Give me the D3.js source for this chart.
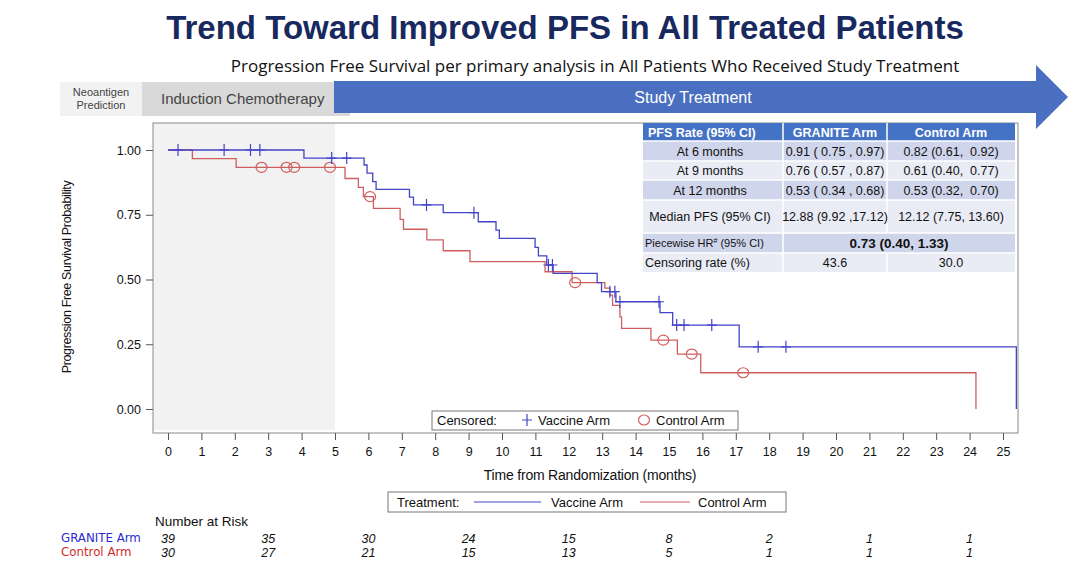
<!DOCTYPE html>
<html><head><meta charset="utf-8">
<script src="https://cdn.jsdelivr.net/npm/d3@7/dist/d3.min.js"></script>
<style>
body{margin:0;background:#fff}
svg{display:block}
text{font-family:"Liberation Sans",Arial,sans-serif}
</style>
</head><body>
<svg id="c" width="1080" height="576"></svg>
<script>
// ---------------- DATA ----------------
const xTicks = d3.range(0, 26);
const yTicks = [0, 0.25, 0.5, 0.75, 1.0];

const vaccineTimes = [0, 4.07, 5.87, 5.96, 6.13, 6.23, 7.23, 7.35, 8.24, 9.29, 9.82, 9.92, 10.99, 11.09, 11.34, 11.53, 12.85, 12.98, 13.41, 14.73, 15.11, 17.10, 25.40];
const vaccineSurv  = [1.0, 0.969, 0.942, 0.911, 0.878, 0.848, 0.818, 0.788, 0.758, 0.723, 0.691, 0.659, 0.624, 0.591, 0.556, 0.524, 0.488, 0.453, 0.414, 0.372, 0.324, 0.240, 0.0];
const vaccineCensor = [0.30, 1.68, 2.47, 2.75, 4.90, 5.35, 7.74, 9.16, 11.39, 11.51, 13.23, 13.38, 13.53, 14.70, 15.23, 15.45, 16.28, 17.67, 18.50];

const controlTimes = [0, 0.73, 2.04, 5.30, 5.70, 5.85, 6.15, 6.95, 7.05, 7.75, 8.24, 9.04, 11.29, 12.10, 13.08, 13.23, 13.31, 13.53, 13.58, 14.46, 15.25, 15.95, 24.19];
const controlSurv  = [1.0, 0.967, 0.933, 0.890, 0.856, 0.820, 0.775, 0.732, 0.694, 0.653, 0.611, 0.569, 0.530, 0.488, 0.467, 0.440, 0.400, 0.356, 0.311, 0.266, 0.212, 0.140, 0.0];
const controlCensor = [2.80, 3.55, 3.78, 4.85, 6.05, 12.19, 14.83, 15.68, 17.22];

const riskTimes = [0, 3, 6, 9, 12, 15, 18, 21, 24];
const riskGranite = [39, 35, 30, 24, 15, 8, 2, 1, 1];
const riskControl = [30, 27, 21, 15, 13, 5, 1, 1, 1];

const tableHeader = ["PFS Rate (95% CI)", "GRANITE Arm", "Control Arm"];
const tableRowLabels = ["At 6 months", "At 9 months", "At 12 months", "Median PFS (95% CI)"];
const tableGranite = ["0.91 ( 0.75 , 0.97)", "0.76 ( 0.57 , 0.87)", "0.53 ( 0.34 , 0.68)", "12.88 (9.92 ,17.12)"];
const tableControl = ["0.82 (0.61,  0.92)", "0.61 (0.40,  0.77)", "0.53 (0.32,  0.70)", "12.12 (7.75, 13.60)"];
const hrLabel = "Piecewise HR";
const hrValue = "0.73 (0.40, 1.33)";
const censorLabel = "Censoring rate (%)";
const censorRates = ["43.6", "30.0"];

// ---------------- LAYOUT ----------------
const svg = d3.select("#c");
const blue = "#4343c8", red = "#cf5f5f";
const x = d3.scaleLinear().domain([0, 25]).range([168, 1003]);
const y = d3.scaleLinear().domain([0, 1]).range([409, 150]);
const fx0 = 153, fx1 = 1018, fy0 = 123, fy1 = 433;

// Title
svg.append("text").attr("x", 565).attr("y", 39).attr("text-anchor", "middle")
  .attr("font-size", 33).attr("font-weight", "bold").attr("fill", "#17295e")
  .text("Trend Toward Improved PFS in All Treated Patients");
svg.append("text").attr("x", 595).attr("y", 72).attr("text-anchor", "middle")
  .style("font-family", "'Open Sans', sans-serif").attr("font-size", 17).attr("fill", "#111")
  .text("Progression Free Survival per primary analysis in All Patients Who Received Study Treatment");

// Banner
svg.append("rect").attr("x", 60).attr("y", 82).attr("width", 82).attr("height", 34).attr("fill", "#f2f2f2");
svg.append("rect").attr("x", 142).attr("y", 82).attr("width", 208).attr("height", 34).attr("fill", "#d9d9d9");
svg.append("text").attr("x", 101).attr("y", 96).attr("text-anchor", "middle").attr("font-size", 11).attr("fill", "#444").text("Neoantigen");
svg.append("text").attr("x", 101).attr("y", 109).attr("text-anchor", "middle").attr("font-size", 11).attr("fill", "#444").text("Prediction");
svg.append("text").attr("x", 161).attr("y", 104).attr("font-size", 15).attr("fill", "#444").text("Induction Chemotherapy");
svg.append("polygon").attr("points", "334,81 1036,81 1036,65 1068,97 1036,129 1036,113 334,113").attr("fill", "#4a6fc0");
svg.append("text").attr("x", 693).attr("y", 103).attr("text-anchor", "middle").attr("font-size", 16).attr("fill", "#fff").text("Study Treatment");

// Plot area
svg.append("rect").attr("x", fx0).attr("y", fy0).attr("width", x(5) - fx0).attr("height", fy1 - fy0 - 3).attr("fill", "#f2f2f2");
svg.append("rect").attr("x", fx0).attr("y", fy0).attr("width", fx1 - fx0).attr("height", fy1 - fy0)
  .attr("fill", "none").attr("stroke", "#8a8a8a").attr("stroke-width", 1);

// Axes
const gx = svg.append("g").attr("transform", `translate(0,${fy1})`)
  .call(d3.axisBottom(x).tickValues(xTicks).tickSize(7).tickPadding(7).tickFormat(d3.format("d")));
gx.select(".domain").remove();
gx.selectAll("line").attr("stroke", "#555");
gx.selectAll("text").attr("font-size", 12.5).attr("fill", "#111").style("font-family", "'Liberation Sans',Arial,sans-serif");

const gy = svg.append("g").attr("transform", `translate(${fx0},0)`)
  .call(d3.axisLeft(y).tickValues(yTicks).tickSize(7).tickPadding(5).tickFormat(d3.format(".2f")));
gy.select(".domain").remove();
gy.selectAll("line").attr("stroke", "#555");
gy.selectAll("text").attr("font-size", 12.5).attr("fill", "#111").style("font-family", "'Liberation Sans',Arial,sans-serif");

svg.append("text").attr("x", 590).attr("y", 480).attr("text-anchor", "middle").attr("font-size", 14)
  .attr("letter-spacing", -0.2).attr("fill", "#111").text("Time from Randomization (months)");
svg.append("text").attr("transform", "translate(71,277) rotate(-90)").attr("text-anchor", "middle")
  .attr("font-size", 12.5).attr("letter-spacing", -0.35).attr("fill", "#111").text("Progression Free Survival Probability");

// Curves
function stepData(times, surv) { return times.map((t, i) => [t, surv[i]]); }
function survAt(times, surv, t) {
  let v = surv[0];
  for (let i = 0; i < times.length; i++) { if (times[i] <= t) v = surv[i]; }
  return v;
}
const line = d3.line().x(d => x(d[0])).y(d => y(d[1])).curve(d3.curveStepAfter);

svg.append("path").datum(stepData(controlTimes, controlSurv)).attr("d", line)
  .attr("fill", "none").attr("stroke", red).attr("stroke-width", 1.3);
svg.append("path").datum(stepData(vaccineTimes, vaccineSurv)).attr("d", line)
  .attr("fill", "none").attr("stroke", blue).attr("stroke-width", 1.3);

// Censor marks
svg.append("g").selectAll("ellipse").data(controlCensor).join("ellipse")
  .attr("cx", d => x(d)).attr("cy", d => y(survAt(controlTimes, controlSurv, d)))
  .attr("rx", 5.5).attr("ry", 5).attr("fill", "none").attr("stroke", red).attr("stroke-width", 1.2);
svg.append("g").selectAll("path").data(vaccineCensor).join("path")
  .attr("d", d => { const cx = x(d), cy = y(survAt(vaccineTimes, vaccineSurv, d)); return `M${cx - 5},${cy}H${cx + 5}M${cx},${cy - 6}V${cy + 6}`; })
  .attr("stroke", blue).attr("stroke-width", 1.2).attr("fill", "none");

// Table
const tx = [643, 783, 887, 1015];
const ty = [123, 141, 161, 180, 200, 233, 253, 272];
const hdr = "#4472c4", rowA = "#cfd5ea", rowB = "#e9ebf5";
const tg = svg.append("g");
tg.append("rect").attr("x", tx[0]).attr("y", ty[0]).attr("width", tx[3] - tx[0]).attr("height", ty[1] - ty[0]).attr("fill", hdr);
for (let r = 0; r < 6; r++) {
  tg.append("rect").attr("x", tx[0]).attr("y", ty[r + 1]).attr("width", tx[3] - tx[0]).attr("height", ty[r + 2] - ty[r + 1])
    .attr("fill", r % 2 === 0 ? rowA : rowB);
}
for (let r = 1; r < 7; r++) tg.append("line").attr("x1", tx[0]).attr("x2", tx[3]).attr("y1", ty[r]).attr("y2", ty[r]).attr("stroke", "#fff").attr("stroke-width", 1.5);
[tx[1], tx[2]].forEach((cx, i) => {
  tg.append("line").attr("x1", cx).attr("x2", cx).attr("y1", ty[0]).attr("y2", i === 1 ? ty[5] : ty[7]).attr("stroke", "#fff").attr("stroke-width", 1.5);
});
tg.append("line").attr("x1", tx[2]).attr("x2", tx[2]).attr("y1", ty[6]).attr("y2", ty[7]).attr("stroke", "#fff").attr("stroke-width", 1.5);

const mid = (a, b) => (a + b) / 2;
tableHeader.forEach((h, i) => {
  tg.append("text").attr("x", i === 0 ? tx[0] + 5 : mid(tx[i], tx[i + 1])).attr("y", ty[1] - 4.5)
    .attr("text-anchor", i === 0 ? "start" : "middle")
    .attr("font-size", 12.5).attr("font-weight", "bold").attr("fill", "#fff").text(h);
});
tableRowLabels.forEach((lab, r) => {
  const yb = mid(ty[r + 1], ty[r + 2]) + 4.5;
  tg.append("text").attr("x", mid(tx[0], tx[1]) - 3).attr("y", yb).attr("text-anchor", "middle").attr("font-size", 12.5).attr("fill", "#111").text(lab);
  tg.append("text").attr("x", mid(tx[1], tx[2])).attr("y", yb).attr("text-anchor", "middle").attr("font-size", 12.5).attr("fill", "#111")
    .style("white-space", "pre").text(tableGranite[r]);
  tg.append("text").attr("x", mid(tx[2], tx[3])).attr("y", yb).attr("text-anchor", "middle").attr("font-size", 12.5).attr("fill", "#111")
    .style("white-space", "pre").text(tableControl[r]);
});
const hrT = tg.append("text").attr("x", tx[0] + 2).attr("y", mid(ty[5], ty[6]) + 4).attr("font-size", 11).attr("fill", "#111");
hrT.append("tspan").text(hrLabel);
hrT.append("tspan").attr("font-size", 7).attr("dy", -4).text("#");
hrT.append("tspan").attr("dy", 4).text(" (95% CI)");
tg.append("text").attr("x", mid(tx[1], tx[3])).attr("y", mid(ty[5], ty[6]) + 5).attr("text-anchor", "middle")
  .attr("font-size", 13.5).attr("font-weight", "bold").attr("fill", "#111").text(hrValue);
tg.append("text").attr("x", tx[0] + 2).attr("y", mid(ty[6], ty[7]) + 4.5).attr("font-size", 12.5).attr("fill", "#111").text(censorLabel);
censorRates.forEach((c, i) => {
  tg.append("text").attr("x", mid(tx[i + 1], tx[i + 2])).attr("y", mid(ty[6], ty[7]) + 4.5).attr("text-anchor", "middle")
    .attr("font-size", 12.5).attr("fill", "#111").text(c);
});

// Censored legend
const lg = svg.append("g");
lg.append("rect").attr("x", 432).attr("y", 411).attr("width", 306).attr("height", 19).attr("fill", "#fff").attr("stroke", "#777");
lg.append("text").attr("x", 437).attr("y", 425).attr("font-size", 13).attr("fill", "#111").text("Censored:");
lg.append("path").attr("d", "M522,420H532M527,414V426").attr("stroke", blue).attr("stroke-width", 1.2);
lg.append("text").attr("x", 538).attr("y", 425).attr("font-size", 13).attr("fill", "#111").text("Vaccine Arm");
lg.append("ellipse").attr("cx", 644).attr("cy", 420).attr("rx", 5.5).attr("ry", 5).attr("fill", "none").attr("stroke", red).attr("stroke-width", 1.2);
lg.append("text").attr("x", 656).attr("y", 425).attr("font-size", 13).attr("fill", "#111").text("Control Arm");

// Treatment legend
const tl = svg.append("g");
tl.append("rect").attr("x", 388).attr("y", 492).attr("width", 398).attr("height", 20).attr("fill", "#fff").attr("stroke", "#777");
tl.append("text").attr("x", 397).attr("y", 507).attr("font-size", 13).attr("fill", "#111").text("Treatment:");
tl.append("line").attr("x1", 474).attr("x2", 541).attr("y1", 502).attr("y2", 502).attr("stroke", blue).attr("stroke-width", 1.2);
tl.append("text").attr("x", 551).attr("y", 507).attr("font-size", 13).attr("fill", "#111").text("Vaccine Arm");
tl.append("line").attr("x1", 640).attr("x2", 690).attr("y1", 502).attr("y2", 502).attr("stroke", red).attr("stroke-width", 1.2);
tl.append("text").attr("x", 698).attr("y", 507).attr("font-size", 13).attr("fill", "#111").text("Control Arm");

// Number at risk
svg.append("text").attr("x", 155).attr("y", 526).attr("font-size", 13.5).attr("fill", "#111").text("Number at Risk");
svg.append("text").attr("x", 61).attr("y", 542).style("font-family", "'DejaVu Sans',sans-serif").attr("font-size", 11.8).attr("fill", "#2a2ad0").text("GRANITE Arm");
svg.append("text").attr("x", 61).attr("y", 556).style("font-family", "'DejaVu Sans',sans-serif").attr("font-size", 11.8).attr("fill", "#d02a2a").text("Control Arm");
svg.append("g").selectAll("text").data(riskTimes).join("text")
  .attr("x", d => x(d)).attr("y", 543).attr("text-anchor", "middle").attr("font-size", 12.5).attr("font-style", "italic").attr("fill", "#111")
  .text((d, i) => riskGranite[i]);
svg.append("g").selectAll("text").data(riskTimes).join("text")
  .attr("x", d => x(d)).attr("y", 557).attr("text-anchor", "middle").attr("font-size", 12.5).attr("font-style", "italic").attr("fill", "#111")
  .text((d, i) => riskControl[i]);
</script>
</body></html>
